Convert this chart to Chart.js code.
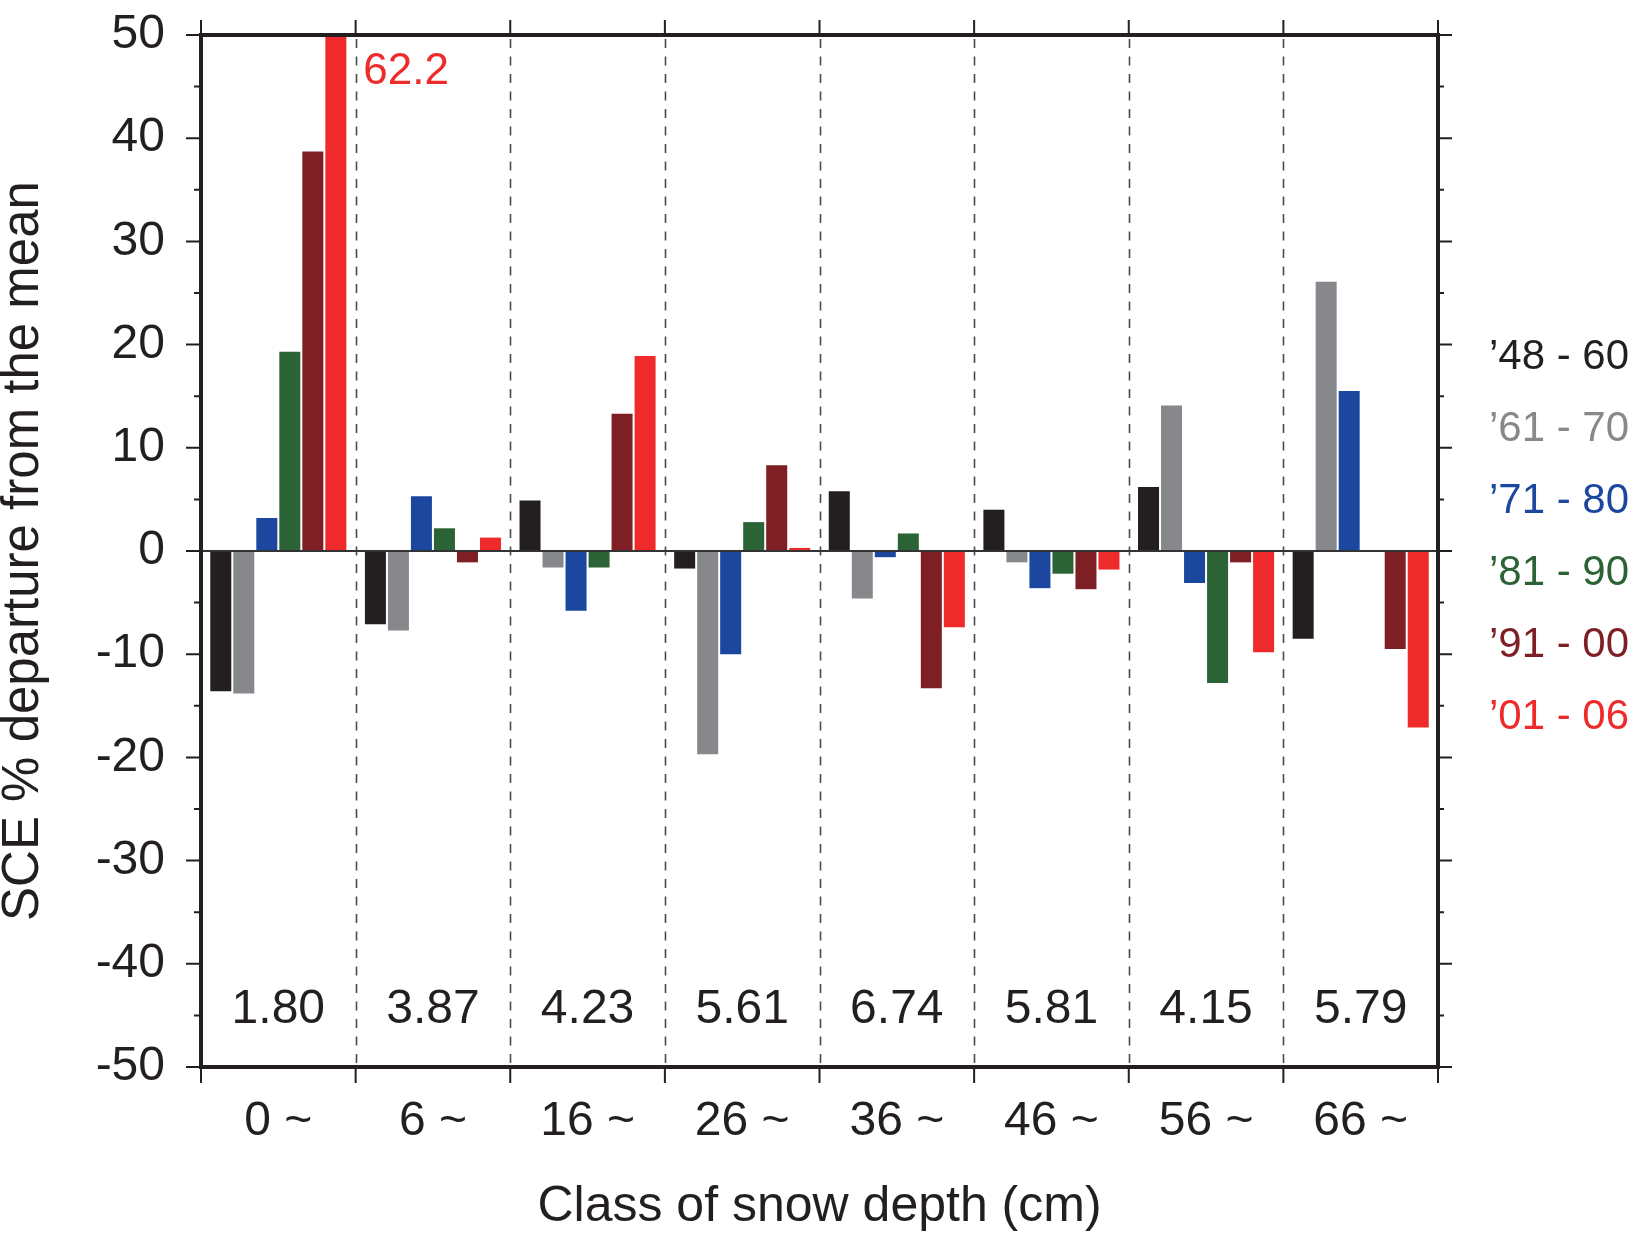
<!DOCTYPE html>
<html>
<head>
<meta charset="utf-8">
<script src="https://cdn.jsdelivr.net/npm/chart.js@4.4.0/dist/chart.umd.min.js"></script>
<style>
html,body{margin:0;padding:0;background:#fff;}
#wrap{width:1632px;height:1247px;}
</style>
</head>
<body>
<div id="wrap"><canvas id="c" width="1632" height="1247"></canvas></div>
<script>
// ---- data ----
const categories = ['0 ~', '6 ~', '16 ~', '26 ~', '36 ~', '46 ~', '56 ~', '66 ~'];
const classValues = ['1.80', '3.87', '4.23', '5.61', '6.74', '5.81', '4.15', '5.79'];
const periods = ['\u201948 - 60', '\u201961 - 70', '\u201971 - 80', '\u201981 - 90', '\u201991 - 00', '\u201901 - 06'];
const periodColors = ['#231f20', '#87888c', '#1b479e', '#2b6236', '#7d1f25', '#ee2a2a'];
const s4860 = [-13.6, -7.1, 4.9, -1.7, 5.8, 4.0, 6.2, -8.5];
const s6170 = [-13.8, -7.7, -1.6, -19.7, -4.6, -1.1, 14.1, 26.1];
const s7180 = [3.2, 5.3, -5.8, -10.0, -0.6, -3.6, -3.1, 15.5];
const s8190 = [19.3, 2.2, -1.6, 2.8, 1.7, -2.2, -12.8, null];
const s9100 = [38.7, -1.1, 13.3, 8.3, -13.3, -3.7, -1.1, -9.5];
const s0106 = [62.2, 1.3, 18.9, 0.3, -7.4, -1.8, -9.8, -17.1];
const seriesValues = [s4860, s6170, s7180, s8190, s9100, s0106];
const yMin = -50, yMax = 50, yStep = 10, yMinorStep = 5;
const outOfRangeLabel = '62.2';

const FONT = '"Liberation Sans", Arial, Helvetica, sans-serif';
const INK = '#231f20';

const decor = {
  id: 'decor',
  beforeDatasetsDraw(chart) {
    const {ctx, chartArea: a, scales: {x}} = chart;
    const n = categories.length;
    const w = (x.right - x.left) / n;
    ctx.save();
    ctx.strokeStyle = '#4a4a4a';
    ctx.lineWidth = 1.6;
    ctx.setLineDash([9, 8.5]);
    for (let i = 1; i < n; i++) {
      const px = Math.round(x.left + i * w) + 0.5;
      ctx.beginPath();
      ctx.moveTo(px, a.top + 4);
      ctx.lineTo(px, a.bottom);
      ctx.stroke();
    }
    ctx.restore();
  },
  afterDatasetsDraw(chart) {
    const {ctx, chartArea: a, scales: {x, y}} = chart;
    const n = categories.length;
    const w = (x.right - x.left) / n;
    ctx.save();
    // zero line
    ctx.strokeStyle = '#333';
    ctx.lineWidth = 2;
    const y0 = y.getPixelForValue(0);
    ctx.beginPath(); ctx.moveTo(a.left, y0); ctx.lineTo(a.right, y0); ctx.stroke();
    // frame
    ctx.strokeStyle = INK;
    ctx.lineWidth = 4;
    ctx.strokeRect(a.left, a.top, a.right - a.left, a.bottom - a.top);
    // y ticks both sides
    ctx.lineWidth = 2;
    for (let v = yMin; v <= yMax; v += yMinorStep) {
      const py = y.getPixelForValue(v);
      const major = (v % yStep) === 0;
      ctx.beginPath();
      ctx.moveTo(a.left - (major ? 15 : 7), py); ctx.lineTo(a.left, py);
      ctx.moveTo(a.right, py); ctx.lineTo(a.right + (major ? 14 : 6), py);
      ctx.stroke();
    }
    // x boundary ticks top & bottom
    for (let i = 0; i <= n; i++) {
      const px = x.left + i * w;
      ctx.beginPath();
      ctx.moveTo(px, a.top - 15); ctx.lineTo(px, a.top);
      ctx.moveTo(px, a.bottom); ctx.lineTo(px, a.bottom + 16);
      ctx.stroke();
    }
    // class values
    ctx.fillStyle = INK;
    ctx.font = '48px ' + FONT;
    ctx.textAlign = 'center';
    ctx.textBaseline = 'middle';
    const yv = y.getPixelForValue(-44.5);
    for (let i = 0; i < n; i++) {
      ctx.fillText(classValues[i], x.getPixelForValue(i), yv);
    }
    // out of range label
    const el = chart.getDatasetMeta(5).data[0];
    ctx.fillStyle = periodColors[5];
    ctx.font = '44px ' + FONT;
    ctx.textAlign = 'left';
    ctx.fillText(outOfRangeLabel, el.x + el.width / 2 + 17, y.getPixelForValue(46.4));
    // legend
    ctx.font = '42px ' + FONT;
    for (let i = 0; i < periods.length; i++) {
      ctx.fillStyle = periodColors[i];
      ctx.fillText(periods[i], a.right + 51, 357 + i * 72);
    }
    ctx.restore();
  }
};

new Chart(document.getElementById('c'), {
  type: 'bar',
  data: {
    labels: categories,
    datasets: seriesValues.map((vals, i) => ({
      label: periods[i],
      data: vals,
      backgroundColor: periodColors[i],
      borderWidth: 0,
      categoryPercentage: 0.893,
      barPercentage: 0.913
    }))
  },
  options: {
    responsive: false,
    animation: false,
    layout: {padding: {left: 0, right: 194, top: 35, bottom: 0}},
    plugins: {legend: {display: false}, tooltip: {enabled: false}},
    scales: {
      x: {
        grid: {display: false, drawTicks: false},
        border: {display: false},
        ticks: {font: {size: 48, family: FONT}, color: INK, padding: 26},
        title: {display: true, text: 'Class of snow depth (cm)', color: INK,
                font: {size: 50, family: FONT}, padding: {top: 0, bottom: 10}},
        afterFit(s) { s.height = 180; }
      },
      y: {
        min: yMin, max: yMax,
        grid: {display: false, drawTicks: true, tickLength: 32},
        border: {display: false},
        ticks: {stepSize: yStep, font: {size: 48, family: FONT}, color: INK, padding: 4},
        title: {display: true, text: 'SCE % departure from the mean', color: INK,
                font: {size: 51, family: FONT, lineHeight: 0.92}, padding: 0},
        afterFit(s) { s.width = 201; }
      }
    }
  },
  plugins: [decor]
});
</script>
</body>
</html>
